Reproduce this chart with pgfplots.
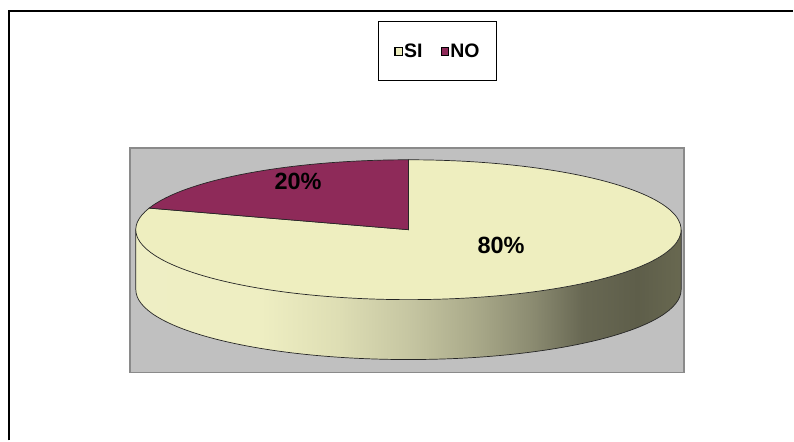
\documentclass[border=0pt]{standalone}
\usepackage{fontspec}
\setmainfont{Liberation Sans}
\usepackage{pgfplots}
\pgfplotsset{compat=1.18}
\definecolor{siFill}{HTML}{EEEEBF}
\definecolor{noFill}{HTML}{8E2A59}
\definecolor{bgGray}{HTML}{C0C0C0}
\definecolor{bgEdge}{HTML}{8A8A8A}
\definecolor{s0}{HTML}{EEEEC4}
\definecolor{s1}{HTML}{EEEEC2}
\definecolor{s2}{HTML}{DEDEB4}
\definecolor{s3}{HTML}{C6C6A2}
\definecolor{s4}{HTML}{AAAA8A}
\definecolor{s5}{HTML}{8A8A70}
\definecolor{s6}{HTML}{686853}
\definecolor{s7}{HTML}{5E5E4A}
\definecolor{s8}{HTML}{686850}
\pgfdeclarehorizontalshading{pieside}{100bp}{%
  color(0bp)=(s0); color(25bp)=(s0); color(36.5bp)=(s1); color(43.5bp)=(s2);
  color(50bp)=(s3); color(56bp)=(s4); color(61.5bp)=(s5); color(66bp)=(s6);
  color(71bp)=(s7); color(75bp)=(s8); color(100bp)=(s8)}
% data
\def\valSI{80}
\def\valNO{20}
\begin{document}
\begin{tikzpicture}
\pgfmathsetmacro\total{\valSI+\valNO}
\pgfmathsetmacro\angNO{90+360*\valNO/\total}
\pgfmathsetmacro\angEnd{450}
\begin{axis}[
  scale only axis, width=794pt, height=441pt,
  xmin=0, xmax=794, ymin=0, ymax=441,
  hide axis, clip=false,
  legend columns=2,
  legend image code/.code={\draw[#1, line width=1.2pt] (0pt,-3.8pt) rectangle (7.6pt,3.8pt);},
  legend style={at={(axis cs:438,389.5)}, anchor=center, draw=black, line width=1pt,
    inner xsep=15.5pt, inner ysep=21pt,
    font=\fontsize{19.5}{19.5}\selectfont\bfseries,
    nodes={inner sep=1pt},
    /tikz/every even column/.append style={column sep=17pt}},
]
\path (axis cs:0,0) rectangle (axis cs:794,441);
% outer frame (left and top edges visible)
\draw[line width=2pt] (axis cs:9,0) -- (axis cs:9,430) -- (axis cs:794,430);
% plot area
\draw[fill=bgGray, draw=bgEdge, line width=1.5pt] (axis cs:130,293) rectangle (axis cs:685,68);
% side of the pie
\path[shading=pieside] (axis cs:136,211) arc[start angle=180, end angle=360, x radius=273pt, y radius=70pt]
   -- ++(0pt,-60pt) arc[start angle=360, end angle=180, x radius=273pt, y radius=70pt] -- cycle;
\draw[black!85, line width=0.7pt] (axis cs:136,211) -- ++(0pt,-60pt) arc[start angle=180, end angle=360, x radius=273pt, y radius=70pt] -- ++(0pt,60pt);
% top: SI slice
\filldraw[fill=siFill, draw=black!85, line width=0.7pt] (axis cs:409,211) -- ++(\angNO:273pt and 70pt)
   arc[start angle=\angNO, end angle=\angEnd, x radius=273pt, y radius=70pt] -- cycle;
% top: NO slice
\filldraw[fill=noFill, draw=black!85, line width=0.7pt] (axis cs:409,211) -- ++(90:273pt and 70pt)
   arc[start angle=90, end angle=\angNO, x radius=273pt, y radius=70pt] -- cycle;
% labels
\node[font=\fontsize{23.5}{24}\selectfont\bfseries] at (axis cs:298.5,259) {\valNO\%};
\node[font=\fontsize{23.5}{24}\selectfont\bfseries] at (axis cs:501.7,195.3) {\valSI\%};
% legend
\addlegendimage{fill=siFill, draw=black}
\addlegendentry{SI}
\addlegendimage{fill=noFill, draw=black}
\addlegendentry{NO}
\end{axis}
\end{tikzpicture}
\end{document}
